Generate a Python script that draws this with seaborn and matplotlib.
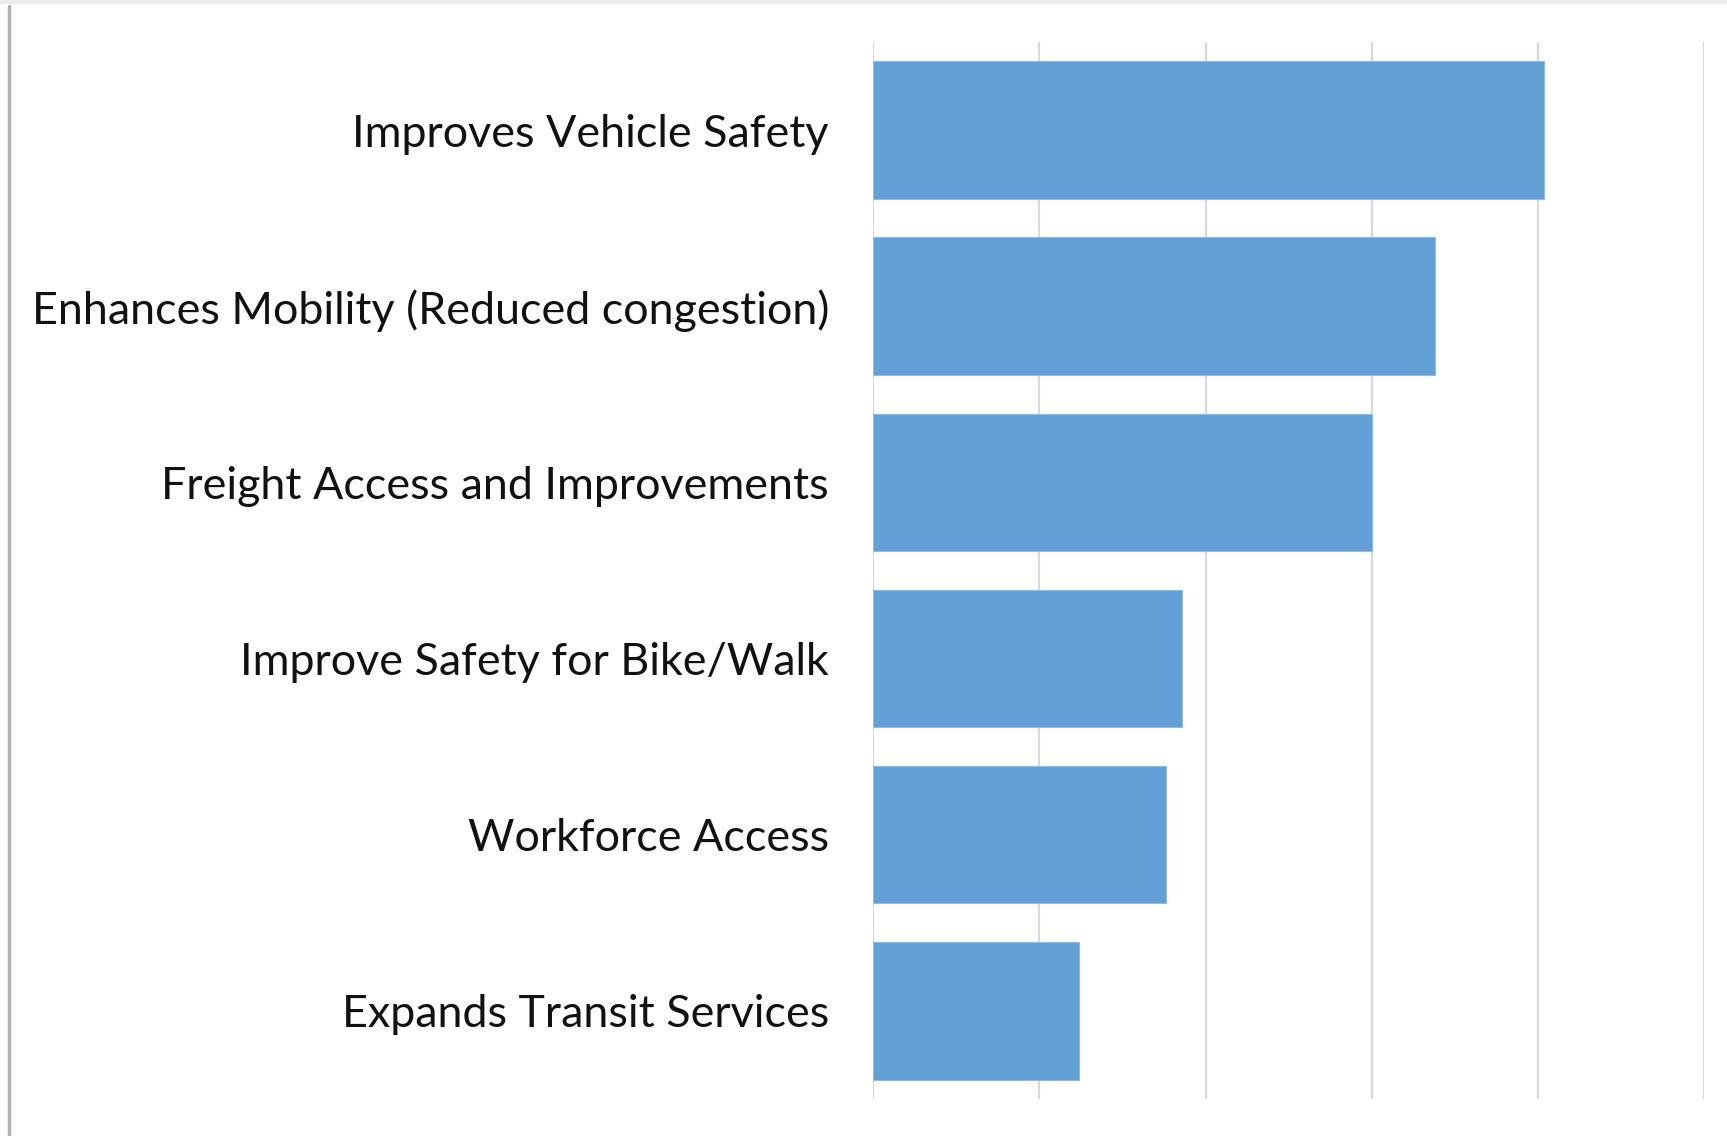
import matplotlib
matplotlib.use("Agg")
import matplotlib.pyplot as plt
import seaborn as sns
import pandas as pd
from matplotlib.lines import Line2D

# Datos (escala sin etiquetas, 5 unidades por línea de cuadrícula)
categorias = [
    "Improves Vehicle Safety",
    "Enhances Mobility (Reduced congestion)",
    "Freight Access and Improvements",
    "Improve Safety for Bike/Walk",
    "Workforce Access",
    "Expands Transit Services",
]
valores = [20.2, 16.9, 15.0, 9.3, 8.8, 6.2]
marcas_x = [0, 5, 10, 15, 20, 25]

df = pd.DataFrame({"categoria": categorias, "valor": valores})

sns.set_theme(style="whitegrid")
plt.rcParams["font.family"] = ["Lato", "DejaVu Sans"]

fig = plt.figure(figsize=(17.27, 11.36), dpi=100)
ax = fig.add_axes([0.5057, 0.0326, 0.4809, 0.9305])

sns.barplot(data=df, x="valor", y="categoria", orient="h", color="#619fd6",
            saturation=1, width=0.78, edgecolor="#8fbbe3", linewidth=0.8, ax=ax)

ax.set_xlim(0, 25)
ax.set_xticks(marcas_x)
ax.set_xticklabels([])
ax.xaxis.grid(True, color="#d9d9d9", linewidth=1.6)
ax.yaxis.grid(False)
ax.set_axisbelow(True)
for s in ax.spines.values():
    s.set_visible(False)
ax.set_xlabel("")
ax.set_ylabel("")
ax.tick_params(axis="y", length=0, pad=32, labelsize=32.3, labelcolor="#111111")
ax.tick_params(axis="x", length=0)

# Marco del recorte original
fig.add_artist(Line2D([0.005, 0.005], [0, 0.995], color="#b0b0b0", linewidth=2.5,
                      transform=fig.transFigure))
fig.add_artist(Line2D([0, 1], [0.998, 0.998], color="#ececec", linewidth=3,
                      transform=fig.transFigure))

fig.savefig("out.png", dpi=100, facecolor="white")
